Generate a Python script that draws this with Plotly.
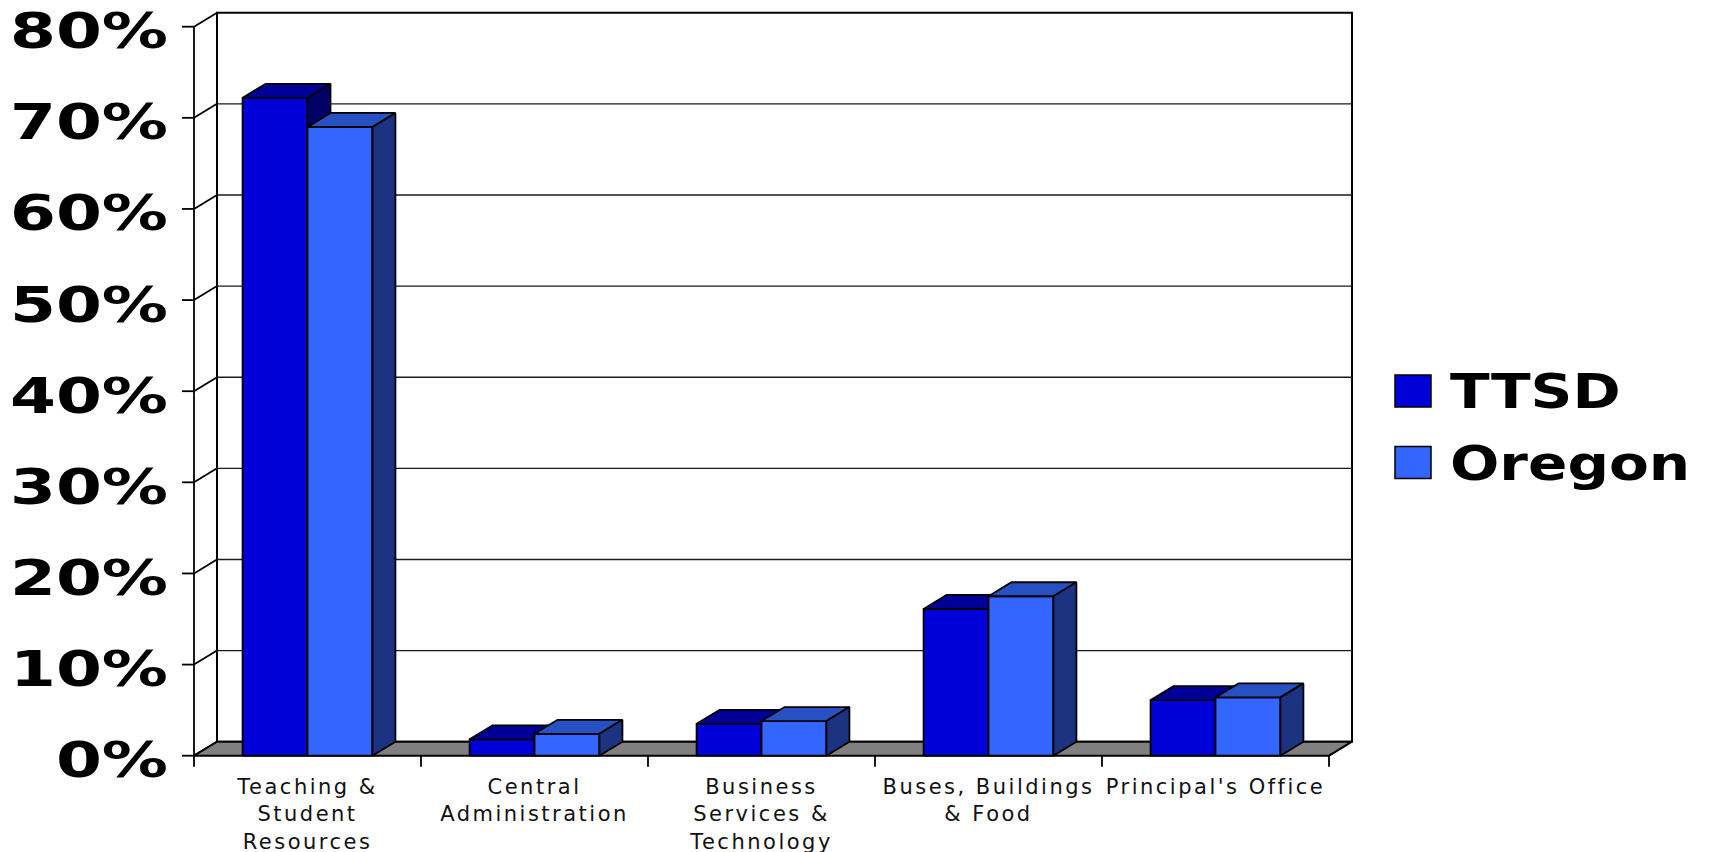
import plotly.graph_objects as go

# ---- data -------------------------------------------------------------
categories = [
    "Teaching &<br>Student<br>Resources",
    "Central<br>Administration",
    "Business<br>Services &<br>Technology",
    "Buses, Buildings<br>& Food",
    "Principal's Office",
]
series_names = ["TTSD", "Oregon"]
ttsd = [72.2, 1.8, 3.5, 16.1, 6.1]
oregon = [69.0, 2.4, 3.8, 17.5, 6.4]
y_ticks = [0, 10, 20, 30, 40, 50, 60, 70, 80]
y_tick_labels = ["0%", "10%", "20%", "30%", "40%", "50%", "60%", "70%", "80%"]

# ---- styling / geometry ----------------------------------------------
W, H = 1711, 852
SLOT = 227.0          # px per category on the front plane
PCT = 9.1125          # px per percentage point
X_FRONT = 194.0       # px of the front-left edge of the floor
Y_FRONT = 755.7       # px of 0% on the front plane
L, R, T, B = 181, 1356, 8, 769   # plot area in px
DX = 23.0 / SLOT      # depth offset of the 3-D box, x units
DY = 14.0 / PCT       # depth offset of the 3-D box, y units
GAP = 0.214           # space from category edge to first bar
BW = 0.286            # bar width in category units

colors = {
    "TTSD": ("#0000D9", "#000099", "#000066"),
    "Oregon": ("#3366FF", "#2751C3", "#1B3380"),
}
FLOOR = "#808080"
FONT = "DejaVu Sans"

n = len(categories)
x_left, x_right = -0.5, n - 0.5
y_top = y_ticks[-1]

x_range = [x_left - (X_FRONT - L) / SLOT, x_left + (R - X_FRONT) / SLOT]
y_range = [-(B - Y_FRONT) / PCT, (Y_FRONT - T) / PCT]

fig = go.Figure()


def polygon(xs, ys, fill, width=2.0):
    fig.add_trace(go.Scatter(
        x=list(xs) + [xs[0]], y=list(ys) + [ys[0]],
        mode="lines", fill="toself", fillcolor=fill,
        line=dict(color="black", width=width),
        hoverinfo="skip", showlegend=False,
    ))


def segments(pairs, color="black", width=2.0):
    xs, ys = [], []
    for (x0, y0), (x1, y1) in pairs:
        xs += [x0, x1, None]
        ys += [y0, y1, None]
    fig.add_trace(go.Scatter(
        x=xs, y=ys, mode="lines",
        line=dict(color=color, width=width),
        hoverinfo="skip", showlegend=False,
    ))


# back wall
polygon([x_left + DX, x_right + DX, x_right + DX, x_left + DX],
        [DY, DY, y_top + DY, y_top + DY], "white")
# gridlines on the back wall
segments([((x_left + DX, v + DY), (x_right + DX, v + DY)) for v in y_ticks[1:-1]],
         color="#1a1a1a", width=1.4)
# left side wall edges
segments([((x_left, v), (x_left + DX, v + DY)) for v in y_ticks], width=1.8)
# floor
polygon([x_left, x_right, x_right + DX, x_left + DX], [0, 0, DY, DY], FLOOR)
# front value axis, its ticks and the category ticks
tick_len_x = 12.0 / SLOT
tick_len_y = 11.0 / PCT
axis = [((x_left, 0), (x_left, y_top))]
axis += [((x_left - tick_len_x, v), (x_left, v)) for v in y_ticks]
axis += [((x_left + k, 0), (x_left + k, -tick_len_y)) for k in range(n + 1)]
segments(axis, width=1.8)

# 3-D columns: front, top and side face of each bar
for i in range(n):
    for s, (name, vals) in enumerate(zip(series_names, [ttsd, oregon])):
        v = vals[i]
        front, top, side = colors[name]
        l = i - 0.5 + GAP + s * BW
        r = l + BW
        polygon([l, r, r, l], [0, 0, v, v], front, 1.8)
        polygon([l, r, r + DX, l + DX], [v, v, v + DY, v + DY], top, 1.8)
        polygon([r, r + DX, r + DX, r], [0, DY, v + DY, v], side, 1.8)


# ---- legend -------------------------------------------------------------
def px_x(p):
    return (p - L) / (R - L)


def px_y(p):
    return (B - p) / (B - T)


legend_rows = [(375.0, 407.0, 391.0), (446.5, 478.5, 463.0)]
for name, (y0, y1, yc) in zip(series_names, legend_rows):
    fig.add_shape(type="rect", xref="paper", yref="paper",
                  x0=px_x(1395), x1=px_x(1431), y0=px_y(y1), y1=px_y(y0),
                  fillcolor=colors[name][0], line=dict(color="black", width=1.5))
    fig.add_annotation(text=name, xref="paper", yref="paper",
                       x=px_x(1448), y=px_y(yc), xanchor="left", yanchor="middle",
                       align="left", showarrow=False,
                       font=dict(family=FONT, size=48, color="black", weight="bold"))

fig.update_layout(
    width=W, height=H,
    margin=dict(l=L, r=W - R, t=T, b=H - B, pad=0),
    paper_bgcolor="white", plot_bgcolor="white",
    showlegend=False,
    xaxis=dict(range=x_range, tickmode="array", tickvals=list(range(n)),
               ticktext=categories, ticks="", showgrid=False, zeroline=False,
               showline=False, fixedrange=True, automargin=False,
               ticklabelstandoff=3, ticklabeloverflow="allow",
               tickfont=dict(family=FONT, size=21, color="#111111")),
    yaxis=dict(range=y_range, tickmode="array", tickvals=y_ticks,
               ticktext=y_tick_labels, ticks="", showgrid=False, zeroline=False,
               showline=False, fixedrange=True, automargin=False,
               ticklabelshift=4, ticklabelstandoff=12, ticklabeloverflow="allow",
               tickfont=dict(family=FONT, size=50, color="black", weight="bold")),
)

# widen the labels: category names get extra tracking, the big bold
# labels are stretched horizontally
widen_js = """
var gd = document.getElementById('{plot_id}');
function stretch(sel, f) {
  gd.querySelectorAll(sel).forEach(function (t) {
    if (t.dataset.w === undefined) { t.dataset.w = t.getComputedTextLength(); }
    t.setAttribute('textLength', (parseFloat(t.dataset.w) * f).toFixed(1));
    t.setAttribute('lengthAdjust', 'spacingAndGlyphs');
  });
}
function widen() {
  gd.querySelectorAll('.xtick text').forEach(function (t) { t.style.letterSpacing = '2.5px'; });
  stretch('.ytick text', 1.32);
  stretch('.annotation-text', 1.21);
}
widen();
gd.on('plotly_afterplot', widen);
"""

fig.write_html("out.html", post_script=widen_js, config={"displayModeBar": False})
